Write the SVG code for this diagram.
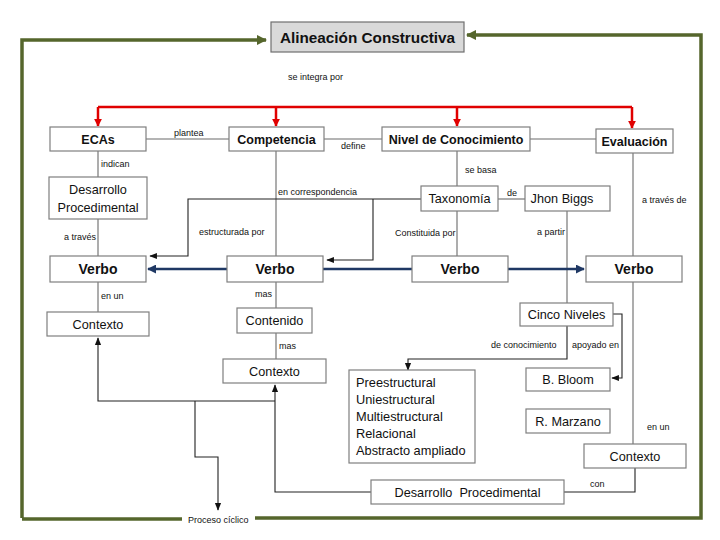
<svg xmlns="http://www.w3.org/2000/svg" width="720" height="540" viewBox="0 0 720 540">
<style>
text{font-family:"Liberation Sans","DejaVu Sans",sans-serif;fill:#111}
.box{fill:#fff;stroke:#7f7f7f;stroke-width:1.2}
.title{fill:#d9d9d9;stroke:#6f6f6f;stroke-width:1.2}
.b{font-weight:bold;font-size:12.5px;text-anchor:middle}
.v{font-weight:bold;font-size:14px;text-anchor:middle}
.r{font-size:12.7px;text-anchor:middle}
.p{font-size:12.8px}
.l{font-size:9px}
.ln{fill:none;stroke:#6a6a6a;stroke-width:1.1}
.bk{fill:none;stroke:#222;stroke-width:1.1}
.red{fill:none;stroke:#e00000;stroke-width:2.5}
.blue{fill:none;stroke:#1f3864;stroke-width:2.5}
.grn{fill:none;stroke:#55662c;stroke-width:3.5}
</style>
<defs>
<marker id="mr" viewBox="0 0 10 10" refX="9" refY="5" markerWidth="3.2" markerHeight="3.2" orient="auto"><path d="M0,0L10,5L0,10z" fill="#e00000"/></marker>
<marker id="mk" viewBox="0 0 10 10" refX="9" refY="5" markerWidth="7" markerHeight="7" orient="auto"><path d="M0,1L10,5L0,9z" fill="#111"/></marker>
<marker id="mb" viewBox="0 0 10 10" refX="9" refY="5" markerWidth="3.6" markerHeight="3.6" orient="auto"><path d="M0,0L10,5L0,10z" fill="#1f3864"/></marker>
<marker id="mg" viewBox="0 0 10 10" refX="9" refY="5" markerWidth="3" markerHeight="3" orient="auto"><path d="M0,0L10,5L0,10z" fill="#55662c"/></marker>
</defs>

<g id="connectors">
<path class="grn" d="M22,518 V40 H266" marker-end="url(#mg)"/>
<path class="grn" d="M182,519 H22"/>
<path class="grn" d="M255,518 H701 V35 H467" marker-end="url(#mg)"/>
<path class="red" d="M98,107 H632"/>
<path class="red" d="M98,107 V126" marker-end="url(#mr)"/>
<path class="red" d="M276,107 V126" marker-end="url(#mr)"/>
<path class="red" d="M457,107 V126" marker-end="url(#mr)"/>
<path class="red" d="M632,107 V128" marker-end="url(#mr)"/>
<path class="ln" d="M146,139 H229"/>
<path class="ln" d="M324,139 H382"/>
<path class="ln" d="M530,139 H596"/>
<path class="ln" d="M98,151 V177"/>
<path class="ln" d="M98,219 V256"/>
<path class="ln" d="M98,282 V312"/>
<path class="ln" d="M276,151 V256"/>
<path class="ln" d="M276,282 V308"/>
<path class="ln" d="M276,333 V359"/>
<path class="ln" d="M457,151 V186"/>
<path class="ln" d="M457,211 V256"/>
<path class="ln" d="M498,199 H525"/>
<path class="ln" d="M567,211 V303"/>
<path class="ln" d="M633,152 V256"/>
<path class="ln" d="M633,282 V444"/>
<path class="bk" d="M421,199 H188 V256 H150" marker-end="url(#mk)"/>
<path class="bk" d="M373,199 V260 H327" marker-end="url(#mk)"/>
<path class="blue" d="M412,269 H323"/>
<path class="blue" d="M227,269 H148" marker-end="url(#mb)"/>
<path class="blue" d="M508,269 H584" marker-end="url(#mb)"/>
<path class="bk" d="M613,314 H622 V378 H612" marker-end="url(#mk)"/>
<path class="bk" d="M567,326 V359 H408 V370" marker-end="url(#mk)"/>
<path class="bk" d="M635,468 V492 H564"/>
<path class="bk" d="M371,492 H275 V385" marker-end="url(#mk)"/>
<path class="bk" d="M275,401 H98 V338" marker-end="url(#mk)"/>
<path class="bk" d="M195,401 V457 H218 V510" marker-end="url(#mk)"/>
</g>

<g id="labels">
<text class="l" x="288" y="80">se integra por</text>
<text class="l" x="174" y="136">plantea</text>
<text class="l" x="341" y="149">define</text>
<text class="l" x="101" y="167">indican</text>
<text class="l" x="465" y="173">se basa</text>
<text class="l" x="278" y="195">en correspondencia</text>
<text class="l" x="507" y="196">de</text>
<text class="l" x="642" y="203">a través de</text>
<text class="l" x="199" y="235">estructurada por</text>
<text class="l" x="64" y="240">a través</text>
<text class="l" x="395" y="236">Constituida por</text>
<text class="l" x="537" y="235">a partir</text>
<text class="l" x="255" y="297">mas</text>
<text class="l" x="101" y="299">en un</text>
<text class="l" x="279" y="349">mas</text>
<text class="l" x="491" y="348">de conocimiento</text>
<text class="l" x="572" y="348">apoyado en</text>
<text class="l" x="647" y="430">en un</text>
<text class="l" x="590" y="487">con</text>
<text class="l" x="188" y="523">Proceso cíclico</text>
</g>

<g id="n-title"><rect class="title" x="271" y="22" width="193" height="30"/><text x="367.5" y="42.5" style="font-weight:bold;font-size:15.3px;text-anchor:middle">Alineación Constructiva</text></g>
<g id="n-ecas"><rect class="box" x="50" y="127" width="96" height="24"/><text class="b" x="98" y="143.5">ECAs</text></g>
<g id="n-competencia"><rect class="box" x="229" y="127" width="95" height="24"/><text class="b" x="276.5" y="143.5">Competencia</text></g>
<g id="n-nivel"><rect class="box" x="382" y="127" width="148" height="24"/><text class="b" x="456" y="143.5">Nivel de Conocimiento</text></g>
<g id="n-evaluacion"><rect class="box" x="596" y="129" width="77" height="24"/><text class="b" x="634.5" y="145.5">Evaluación</text></g>
<g id="n-desarrollo1"><rect class="box" x="49" y="177" width="98" height="42"/><text class="r" x="98" y="194">Desarrollo</text><text class="r" x="98" y="212">Procedimental</text></g>
<g id="n-taxonomia"><rect class="box" x="421" y="186" width="77" height="25"/><text class="r" x="459.5" y="203">Taxonomía</text></g>
<g id="n-biggs"><rect class="box" x="525" y="186" width="85" height="25"/><text class="r" x="562" y="203">Jhon Biggs</text></g>
<g id="n-verbo1"><rect class="box" x="50" y="256" width="96" height="26"/><text class="v" x="98" y="274">Verbo</text></g>
<g id="n-verbo2"><rect class="box" x="227" y="256" width="96" height="26"/><text class="v" x="275" y="274">Verbo</text></g>
<g id="n-verbo3"><rect class="box" x="412" y="256" width="96" height="26"/><text class="v" x="460" y="274">Verbo</text></g>
<g id="n-verbo4"><rect class="box" x="586" y="256" width="96" height="26"/><text class="v" x="634" y="274">Verbo</text></g>
<g id="n-contexto1"><rect class="box" x="47" y="312" width="102" height="24"/><text class="r" x="98" y="328.5">Contexto</text></g>
<g id="n-contenido"><rect class="box" x="237" y="308" width="75" height="25"/><text class="r" x="274.5" y="325">Contenido</text></g>
<g id="n-contexto2"><rect class="box" x="223" y="359" width="103" height="24"/><text class="r" x="274.5" y="375.5">Contexto</text></g>
<g id="n-cinco"><rect class="box" x="520" y="303" width="93" height="23"/><text class="r" x="566.5" y="319">Cinco Niveles</text></g>
<g id="n-bloom"><rect class="box" x="526" y="368" width="84" height="23"/><text class="r" x="568" y="384">B. Bloom</text></g>
<g id="n-marzano"><rect class="box" x="526" y="409" width="84" height="24"/><text class="r" x="568" y="425.5">R. Marzano</text></g>
<g id="n-niveles"><rect class="box" x="349" y="370" width="126" height="93"/>
<text class="p" x="356" y="387">Preestructural</text>
<text class="p" x="356" y="404">Uniestructural</text>
<text class="p" x="356" y="421">Multiestructural</text>
<text class="p" x="356" y="438">Relacional</text>
<text class="p" x="356" y="455">Abstracto ampliado</text></g>
<g id="n-contexto3"><rect class="box" x="584" y="444" width="102" height="24"/><text class="r" x="635" y="460.5">Contexto</text></g>
<g id="n-desarrollo2"><rect class="box" x="371" y="480" width="193" height="24"/><text class="r" x="467.5" y="496.5" xml:space="preserve">Desarrollo  Procedimental</text></g>
</svg>
